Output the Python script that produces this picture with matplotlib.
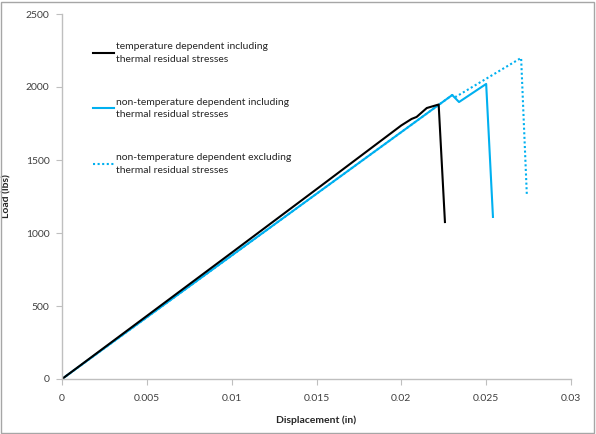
import matplotlib
matplotlib.use("Agg")
import matplotlib.pyplot as plt
import matplotlib.patches as patches

plt.rcParams['font.family'] = ['Lato', 'DejaVu Sans']

# temperature dependent incl. thermal residual stresses
td_x = [0, 0.005, 0.01, 0.015, 0.02, 0.0206, 0.0209, 0.0215, 0.0222, 0.02257]
td_y = [0, 432, 865, 1300, 1737, 1781, 1795, 1856, 1880, 1075]

# non-temperature dependent incl. thermal residual stresses
ntd_x = [0, 0.0230, 0.0234, 0.0250, 0.0254]
ntd_y = [0, 1945, 1897, 2021, 1110]

# non-temperature dependent excl. thermal residual stresses
ntd_ex_x = [0, 0.0230, 0.0232, 0.02706, 0.0274]
ntd_ex_y = [0, 1945, 1932, 2199, 1253]

labels = ["temperature dependent including\nthermal residual stresses",
          "non-temperature dependent including\nthermal residual stresses",
          "non-temperature dependent excluding\nthermal residual stresses"]

blue = '#00B0F0'
grey = '#BFBFBF'

fig = plt.figure(figsize=(5.96, 4.34), dpi=100)
ax = fig.add_axes([62/596, 1-379/434, 509/596, 365/434])

ax.plot(ntd_ex_x, ntd_ex_y, color=blue, lw=1.5, ls=(0, (1, 1.2)), label=labels[2])
ax.plot(ntd_x, ntd_y, color=blue, lw=1.5, label=labels[1])
ax.plot(td_x, td_y, color='black', lw=1.5, label=labels[0])

ax.set_xlim(0, 0.03)
ax.set_ylim(0, 2500)
ax.set_xticks([0, 0.005, 0.01, 0.015, 0.02, 0.025, 0.03])
ax.set_xticklabels(['0', '0.005', '0.01', '0.015', '0.02', '0.025', '0.03'])
ax.set_yticks([0, 500, 1000, 1500, 2000, 2500])

for s in ['top', 'right']:
    ax.spines[s].set_visible(False)
for s in ['left', 'bottom']:
    ax.spines[s].set_color(grey)
    ax.spines[s].set_linewidth(1.0)
ax.tick_params(axis='both', colors=grey, labelcolor='#404040', labelsize=7.5,
               length=4, width=0.8, direction='out')
ax.tick_params(axis='x', pad=7)
ax.tick_params(axis='y', pad=5)

ax.set_xlabel("Displacement (in)", fontsize=7.5, fontweight='bold', color='#262626', labelpad=9)
ax.set_ylabel("Load (lbs)", fontsize=7.5, fontweight='bold', color='#262626', labelpad=10)

h, l = ax.get_legend_handles_labels()
order = [2, 1, 0]
leg = ax.legend([h[i] for i in order], [l[i] for i in order], loc='upper left',
                bbox_to_anchor=(0.061, 0.922), frameon=False, fontsize=7.5,
                handlelength=2.0, handletextpad=0.25, labelspacing=3.25,
                borderpad=0, borderaxespad=0)
for t in leg.get_texts():
    t.set_color('#262626')
    t.set_linespacing(1.5)

fig.patches.append(patches.Rectangle((0.002, 0.003), 0.995, 0.993, transform=fig.transFigure,
                                     fill=False, edgecolor='#A6A6A6', lw=1.0))

fig.savefig("out.png", dpi=100)
